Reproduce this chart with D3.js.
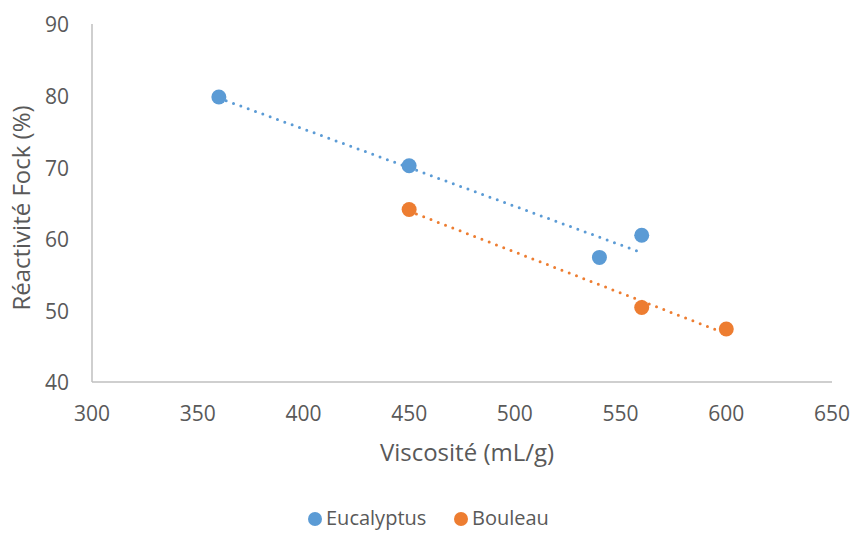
<!DOCTYPE html>
<html><head><meta charset="utf-8">
<script src="https://cdn.jsdelivr.net/npm/d3@7"></script>
<style>body{margin:0;background:#fff}svg{display:block;font-family:"Open Sans",sans-serif}</style>
</head><body><svg id="c" width="852" height="533"></svg>
<script>
const seriesNames = ["Eucalyptus", "Bouleau"];
const colors = ["#5b9bd5", "#ed7d31"];
const eucX = [360, 450, 540, 560];
const eucY = [79.8, 70.2, 57.4, 60.5];
const bouX = [450, 560, 600];
const bouY = [64.1, 50.4, 47.4];
const xTicks = [300, 350, 400, 450, 500, 550, 600, 650];
const yTicks = [40, 50, 60, 70, 80, 90];

const svg = d3.select("#c");
const x = d3.scaleLinear().domain([300, 650]).range([92, 832]);
const y = d3.scaleLinear().domain([40, 90]).range([382, 24]);
const txt = "#595959";

svg.append("line").attr("x1", x(300)).attr("x2", x(300)).attr("y1", y(90)).attr("y2", y(40)).attr("stroke", "#bfbfbf").attr("stroke-width", 1.5);
svg.append("line").attr("x1", x(300)).attr("x2", x(650)).attr("y1", y(40)).attr("y2", y(40)).attr("stroke", "#bfbfbf").attr("stroke-width", 1.5);

svg.selectAll(".yt").data(yTicks).enter().append("text")
  .attr("x", 69).attr("y", d => y(d) + 1).attr("dy", "0.35em").attr("text-anchor", "end")
  .attr("font-size", 21).attr("fill", txt).text(d => d);
svg.selectAll(".xt").data(xTicks).enter().append("text")
  .attr("x", d => x(d)).attr("y", 414).attr("dy", "0.35em").attr("text-anchor", "middle")
  .attr("font-size", 21).attr("fill", txt).text(d => d);

svg.append("text").attr("x", 467).attr("y", 453).attr("dy", "0.35em").attr("text-anchor", "middle")
  .attr("font-size", 24).attr("fill", txt).text("Viscosité (mL/g)");
svg.append("text").attr("transform", "translate(22,208) rotate(-90)").attr("dy", "0.35em").attr("text-anchor", "middle")
  .attr("font-size", 24).attr("fill", txt).text("Réactivité Fock (%)");

function regress(xs, ys) {
  const n = xs.length, mx = d3.mean(xs), my = d3.mean(ys);
  let sxy = 0, sxx = 0;
  for (let i = 0; i < n; i++) { sxy += (xs[i]-mx)*(ys[i]-my); sxx += (xs[i]-mx)**2; }
  const b = sxy / sxx, a = my - b*mx;
  return v => a + b*v;
}
const series = [[eucX, eucY], [bouX, bouY]];
series.forEach(([xs, ys], i) => {
  const f = regress(xs, ys);
  const x0 = d3.min(xs), x1 = d3.max(xs);
  svg.append("line").attr("x1", x(x0)).attr("y1", y(f(x0))).attr("x2", x(x1)).attr("y2", y(f(x1)))
    .attr("stroke", colors[i]).attr("stroke-width", 3).attr("stroke-linecap", "round")
    .attr("stroke-dasharray", "0,7.8");
});
series.forEach(([xs, ys], i) => {
  svg.selectAll(null).data(xs.map((v, k) => [v, ys[k]])).enter().append("circle")
    .attr("cx", d => x(d[0])).attr("cy", d => y(d[1])).attr("r", 7.5).attr("fill", colors[i]);
});

const lg = [{n: seriesNames[0], cx: 315}, {n: seriesNames[1], cx: 461}];
lg.forEach((l, i) => {
  svg.append("circle").attr("cx", l.cx).attr("cy", 519).attr("r", 7).attr("fill", colors[i]);
  svg.append("text").attr("x", l.cx + 11).attr("y", 518).attr("dy", "0.35em").attr("font-size", 20).attr("fill", txt).text(l.n);
});
</script></body></html>
